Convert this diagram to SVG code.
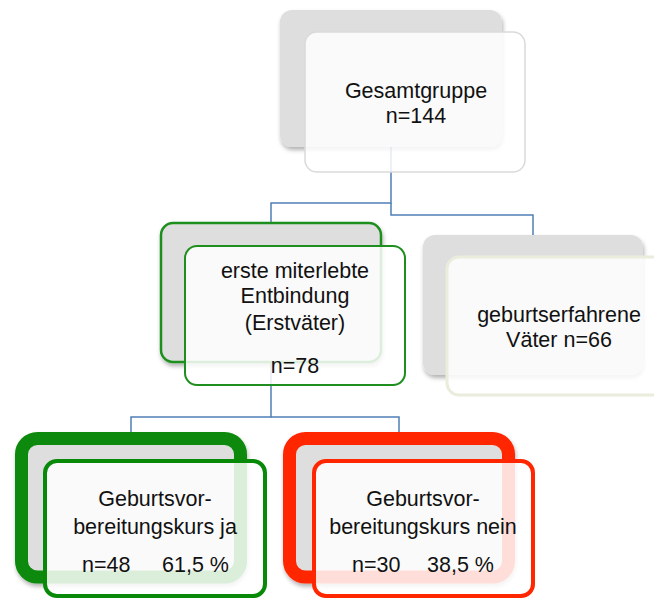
<svg xmlns="http://www.w3.org/2000/svg" width="654" height="598" viewBox="0 0 654 598">
<defs>
<filter id="sh" x="-10%" y="-10%" width="130%" height="130%">
<feDropShadow dx="1" dy="3" stdDeviation="2" flood-color="#000" flood-opacity="0.3"/>
</filter>
<style>
.back{fill:#dedede;filter:url(#sh)}
.front{fill:#ffffff;fill-opacity:0.85}
.t{font-family:"Liberation Sans",Arial,sans-serif;font-size:21.5px;fill:#111;text-anchor:middle}
.ts{font-family:"Liberation Sans",Arial,sans-serif;font-size:21.5px;fill:#111}
.con{fill:none;stroke:#4f7fb5;stroke-width:1.5}
</style>
</defs>
<rect width="654" height="598" fill="#fff"/>
<g id="connectors">
<path class="con" d="M391,147 V203 H271 V223"/>
<path class="con" d="M391,203 V215 H533 V235"/>
<path class="con" d="M271,362 V417 H131 V432"/>
<path class="con" d="M271,417 H399 V432"/>
</g>
<g id="n1">
<rect class="back" x="280" y="10" width="222" height="137" rx="12"/>
<rect class="front" x="305" y="32" width="220" height="140" rx="12" stroke="#dadada" stroke-width="1.5"/>
<text class="t" x="416" y="98">Gesamtgruppe</text>
<text class="t" x="416" y="123">n=144</text>
</g>
<g id="n2">
<rect class="back" x="161" y="223" width="220" height="139" rx="12" stroke="#1e8f1e" stroke-width="2.5"/>
<rect class="front" x="185" y="246" width="220" height="139" rx="12" stroke="#1e8f1e" stroke-width="2"/>
<text class="t" x="295" y="278">erste miterlebte</text>
<text class="t" x="295" y="303">Entbindung</text>
<text class="t" x="295" y="330">(Erstväter)</text>
<text class="t" x="295" y="373">n=78</text>
</g>
<g id="n3">
<rect class="back" x="423" y="235" width="220" height="140" rx="12"/>
<rect class="front" x="447" y="257" width="222" height="138" rx="12" stroke="#eaeddc" stroke-width="3"/>
<text class="t" x="559" y="322">geburtserfahrene</text>
<text class="t" x="559" y="347">Väter n=66</text>
</g>
<g id="n4">
<rect class="back" x="21.5" y="438.5" width="219" height="138.5" rx="16" stroke="#088a08" stroke-width="13"/>
<rect class="front" x="45" y="461" width="220" height="135" rx="12" stroke="#088a08" stroke-width="4"/>
<text class="t" x="155" y="506">Geburtsvor-</text>
<text class="t" x="155" y="534">bereitungskurs ja</text>
<text class="ts" y="572"><tspan x="82">n=48</tspan><tspan x="162">61,5 %</tspan></text>
</g>
<g id="n5">
<rect class="back" x="289.5" y="438.5" width="219" height="138.5" rx="16" stroke="#ff2600" stroke-width="13"/>
<rect class="front" x="314" y="461" width="219" height="135" rx="12" stroke="#ff2600" stroke-width="4"/>
<text class="t" x="423" y="506">Geburtsvor-</text>
<text class="t" x="423" y="534">bereitungskurs nein</text>
<text class="ts" y="572"><tspan x="352">n=30</tspan><tspan x="427">38,5 %</tspan></text>
</g>
</svg>
